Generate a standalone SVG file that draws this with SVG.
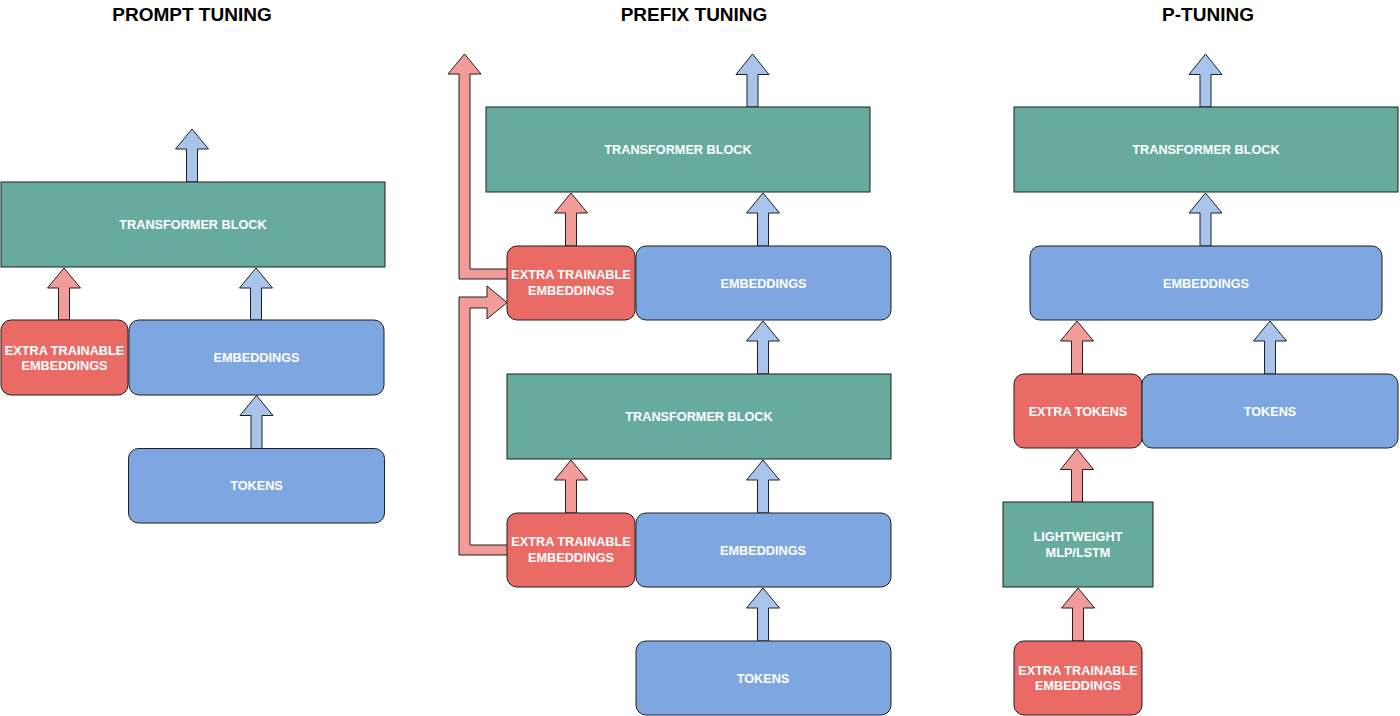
<svg xmlns="http://www.w3.org/2000/svg" width="1400" height="716" viewBox="0 0 1400 716">
<style>
.bg{fill:#ffffff}
.green{fill:#67AB9F;stroke:#1f1f1f;stroke-width:1}
.blue{fill:#7EA6E0;stroke:#1f1f1f;stroke-width:1}
.red{fill:#EA6B66;stroke:#1f1f1f;stroke-width:1}
.ab{fill:#A9C4EB;stroke:#1f1f1f;stroke-width:1;stroke-linejoin:miter}
.ar{fill:#F19C99;stroke:#1f1f1f;stroke-width:1;stroke-linejoin:miter}
.lbl{font-family:"Liberation Sans",Arial,sans-serif;font-weight:bold;font-size:12.7px;fill:#ffffff;text-anchor:middle}
.title{font-family:"Liberation Sans",Arial,sans-serif;font-weight:bold;font-size:19px;fill:#000000;text-anchor:middle}
</style>
<rect class="bg" x="0" y="0" width="1400" height="716"/>

<g id="titles">
<text class="title" x="192" y="21">PROMPT TUNING</text>
<text class="title" x="694" y="21">PREFIX TUNING</text>
<text class="title" x="1208" y="21">P-TUNING</text>
</g>

<g id="connectors">
<!-- prompt tuning -->
<path class="ab" d="M192,129 L208.5,149 L197.5,149 L197.5,182 L186.5,182 L186.5,149 L175.5,149 Z"/>
<path class="ar" d="M64,268 L80.5,288 L69.5,288 L69.5,320 L58.5,320 L58.5,288 L47.5,288 Z"/>
<path class="ab" d="M256,268 L272.5,288 L261.5,288 L261.5,320 L250.5,320 L250.5,288 L239.5,288 Z"/>
<path class="ab" d="M256.5,395.5 L273,415.5 L262,415.5 L262,448.5 L251,448.5 L251,415.5 L240,415.5 Z"/>
<!-- prefix tuning -->
<path class="ab" d="M752.5,54 L769,74.5 L758,74.5 L758,107 L747,107 L747,74.5 L736,74.5 Z"/>
<path class="ar" d="M571,193 L587.5,213 L576.5,213 L576.5,246 L565.5,246 L565.5,213 L554.5,213 Z"/>
<path class="ab" d="M763,193 L779.5,213 L768.5,213 L768.5,246 L757.5,246 L757.5,213 L746.5,213 Z"/>
<path class="ab" d="M763,321 L779.5,341 L768.5,341 L768.5,374 L757.5,374 L757.5,341 L746.5,341 Z"/>
<path class="ar" d="M571,460 L587.5,480 L576.5,480 L576.5,513 L565.5,513 L565.5,480 L554.5,480 Z"/>
<path class="ab" d="M763,460 L779.5,480 L768.5,480 L768.5,513 L757.5,513 L757.5,480 L746.5,480 Z"/>
<path class="ab" d="M763,588 L779.5,608 L768.5,608 L768.5,641 L757.5,641 L757.5,608 L746.5,608 Z"/>
<path class="ar" d="M507,279 L459,279 L459,74 L448,74 L464.5,54 L481,74 L470,74 L470,269 L507,269"/>
<path class="ar" d="M507,545 L470,545 L470,308 L487,308 L487,319 L507,302.5 L487,286 L487,297 L459,297 L459,555 L507,555"/>
<!-- p-tuning -->
<path class="ab" d="M1205.5,54 L1222,74.5 L1211,74.5 L1211,107 L1200,107 L1200,74.5 L1189,74.5 Z"/>
<path class="ab" d="M1205.5,193 L1222,213 L1211,213 L1211,246 L1200,246 L1200,213 L1189,213 Z"/>
<path class="ar" d="M1077,321 L1093.5,341 L1082.5,341 L1082.5,374 L1071.5,374 L1071.5,341 L1060.5,341 Z"/>
<path class="ab" d="M1270,321 L1286.5,341 L1275.5,341 L1275.5,374 L1264.5,374 L1264.5,341 L1253.5,341 Z"/>
<path class="ar" d="M1077,449 L1093.5,469.5 L1082.5,469.5 L1082.5,502 L1071.5,502 L1071.5,469.5 L1060.5,469.5 Z"/>
<path class="ar" d="M1078,588 L1094.5,608 L1083.5,608 L1083.5,641 L1072.5,641 L1072.5,608 L1061.5,608 Z"/>
</g>

<!-- Prompt tuning nodes -->
<g id="pt-transformer">
<rect class="green" x="1" y="182" width="384" height="85"/>
<text class="lbl" x="193" y="229">TRANSFORMER BLOCK</text>
</g>
<g id="pt-extra">
<rect class="red" x="1" y="320" width="127" height="75" rx="10" ry="10"/>
<text class="lbl" x="64.5" y="354.7">EXTRA TRAINABLE</text>
<text class="lbl" x="64.5" y="370.2">EMBEDDINGS</text>
</g>
<g id="pt-embeddings">
<rect class="blue" x="129" y="320" width="255" height="75" rx="10" ry="10"/>
<text class="lbl" x="256.5" y="362">EMBEDDINGS</text>
</g>
<g id="pt-tokens">
<rect class="blue" x="128.5" y="448.5" width="256" height="74.5" rx="10" ry="10"/>
<text class="lbl" x="256.5" y="490">TOKENS</text>
</g>

<!-- Prefix tuning nodes -->
<g id="pf-transformer-top">
<rect class="green" x="486" y="107" width="384" height="85"/>
<text class="lbl" x="678" y="154">TRANSFORMER BLOCK</text>
</g>
<g id="pf-extra-top">
<rect class="red" x="507" y="246" width="128" height="74" rx="10" ry="10"/>
<text class="lbl" x="571" y="279">EXTRA TRAINABLE</text>
<text class="lbl" x="571" y="294.5">EMBEDDINGS</text>
</g>
<g id="pf-embeddings-top">
<rect class="blue" x="636" y="246" width="255" height="74" rx="10" ry="10"/>
<text class="lbl" x="763.5" y="287.5">EMBEDDINGS</text>
</g>
<g id="pf-transformer-bottom">
<rect class="green" x="507" y="374" width="384" height="85"/>
<text class="lbl" x="699" y="421">TRANSFORMER BLOCK</text>
</g>
<g id="pf-extra-bottom">
<rect class="red" x="507" y="513" width="128" height="74" rx="10" ry="10"/>
<text class="lbl" x="571" y="546">EXTRA TRAINABLE</text>
<text class="lbl" x="571" y="561.5">EMBEDDINGS</text>
</g>
<g id="pf-embeddings-bottom">
<rect class="blue" x="636" y="513" width="255" height="74" rx="10" ry="10"/>
<text class="lbl" x="763" y="554.5">EMBEDDINGS</text>
</g>
<g id="pf-tokens">
<rect class="blue" x="636" y="641" width="255" height="74" rx="10" ry="10"/>
<text class="lbl" x="763" y="682.5">TOKENS</text>
</g>

<!-- P-tuning nodes -->
<g id="p-transformer">
<rect class="green" x="1014" y="107" width="384" height="85"/>
<text class="lbl" x="1206" y="154">TRANSFORMER BLOCK</text>
</g>
<g id="p-embeddings">
<rect class="blue" x="1030" y="246" width="352" height="74" rx="10" ry="10"/>
<text class="lbl" x="1206" y="287.5">EMBEDDINGS</text>
</g>
<g id="p-extra-tokens">
<rect class="red" x="1014" y="374" width="128" height="74" rx="10" ry="10"/>
<text class="lbl" x="1078" y="415.5">EXTRA TOKENS</text>
</g>
<g id="p-tokens">
<rect class="blue" x="1142" y="374" width="256" height="74" rx="10" ry="10"/>
<text class="lbl" x="1270" y="415.5">TOKENS</text>
</g>
<g id="p-mlp">
<rect class="green" x="1003" y="502" width="150" height="85"/>
<text class="lbl" x="1078" y="541.3">LIGHTWEIGHT</text>
<text class="lbl" x="1078" y="556.8">MLP/LSTM</text>
</g>
<g id="p-extra-emb">
<rect class="red" x="1014" y="641" width="128" height="74" rx="10" ry="10"/>
<text class="lbl" x="1078" y="674.5">EXTRA TRAINABLE</text>
<text class="lbl" x="1078" y="690">EMBEDDINGS</text>
</g>
</svg>
